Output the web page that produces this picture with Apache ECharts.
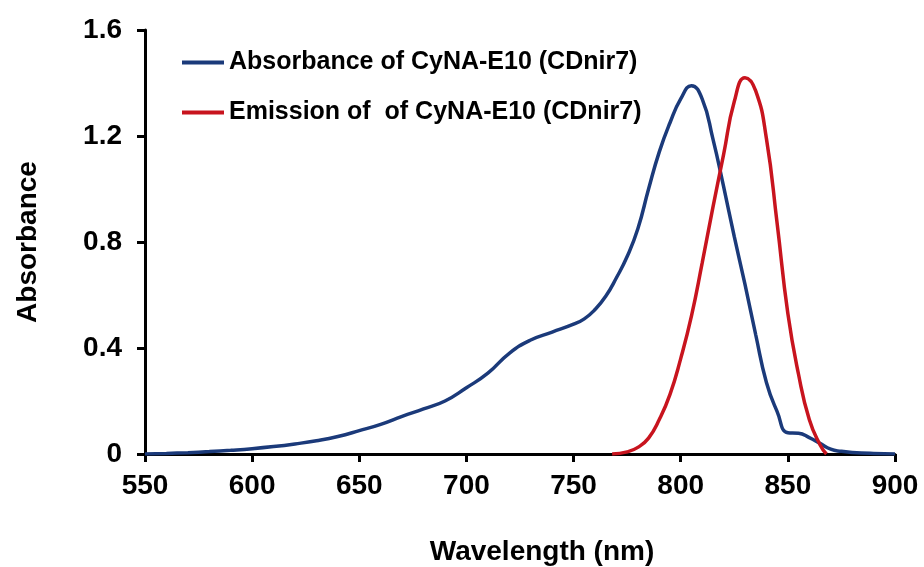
<!DOCTYPE html>
<html>
<head>
<meta charset="utf-8">
<script src="https://cdn.jsdelivr.net/npm/echarts@6/dist/echarts.min.js"></script>
<style>
  html, body { margin: 0; padding: 0; background: #fff; }
  #chart { width: 924px; height: 567px; }
</style>
</head>
<body>
<div id="chart"></div>
<script>
// wavelengths (nm) and values
const absWl = [550, 560, 570, 580, 590, 600, 610, 620, 630, 640, 650, 660, 670, 680, 690, 700, 710, 720, 730, 740, 750, 755, 760, 765, 770, 775, 780, 785, 790, 795, 800, 805, 810, 815, 820, 825, 830, 835, 840, 845, 850, 855, 860, 865, 870, 875, 880, 890, 900]
const absVal = [0, 0.002, 0.005, 0.009, 0.014, 0.02, 0.028, 0.038, 0.05, 0.066, 0.088, 0.112, 0.142, 0.17, 0.2, 0.25, 0.305, 0.38, 0.43, 0.46, 0.49, 0.51, 0.545, 0.595, 0.665, 0.745, 0.85, 1.0, 1.14, 1.25, 1.34, 1.39, 1.34, 1.19, 1.01, 0.82, 0.64, 0.45, 0.27, 0.16, 0.08, 0.078, 0.062, 0.04, 0.018, 0.01, 0.006, 0.002, 0]

const emWl = [768, 775, 780, 785, 790, 795, 800, 805, 810, 815, 820, 825, 830, 835, 840, 845, 850, 855, 860, 865, 868]
const emVal = [0, 0.008, 0.025, 0.06, 0.13, 0.225, 0.36, 0.52, 0.72, 0.93, 1.13, 1.33, 1.42, 1.37, 1.19, 0.87, 0.53, 0.3, 0.13, 0.035, 0]

const seriesNames = ['Absorbance of CyNA-E10 (CDnir7)', 'Emission of  of CyNA-E10 (CDnir7)']
const seriesColors = ['#1b3a7a', '#c8141e']

const font = '"Liberation Sans", Arial, sans-serif'
const zip = (xs, ys) => xs.map((x, i) => [x, ys[i]])

const chart = echarts.init(document.getElementById('chart'))

const axisCommon = {
  axisLine: { lineStyle: { color: '#000', width: 3 } },
  axisTick: { inside: false, length: 8, lineStyle: { color: '#000', width: 3 } },
  splitLine: { show: false },
  nameLocation: 'middle',
  nameTextStyle: { color: '#000', fontSize: 28, fontWeight: 'bold', fontFamily: font }
}

chart.setOption({
  animation: false,
  backgroundColor: '#fff',
  grid: { left: 145, right: 29, top: 30, bottom: 113, outerBoundsMode: 'none' },
  legend: {
    orient: 'vertical',
    left: 177,
    top: 45,
    itemWidth: 42,
    itemHeight: 4,
    itemGap: 25,
    icon: 'rect',
    data: seriesNames,
    textStyle: { color: '#000', fontSize: 25, fontWeight: 'bold', fontFamily: font }
  },
  xAxis: {
    ...axisCommon,
    type: 'value',
    min: 550,
    max: 900,
    interval: 50,
    name: 'Wavelength (nm)',
    nameGap: 84,
    nameTextStyle: { ...axisCommon.nameTextStyle, padding: [0, 0, 0, 44] },
    axisLabel: { color: '#000', fontSize: 28, fontWeight: 'bold', fontFamily: font, margin: 18 }
  },
  yAxis: {
    ...axisCommon,
    type: 'value',
    min: 0,
    max: 1.6,
    interval: 0.4,
    name: 'Absorbance',
    nameGap: 103,
    axisLabel: {
      color: '#000', fontSize: 28, fontWeight: 'bold', fontFamily: font, margin: 23,
      formatter: v => v === 0 ? '0' : v.toFixed(1)
    }
  },
  series: [
    {
      name: seriesNames[0],
      type: 'line',
      data: zip(absWl, absVal),
      smooth: 0.5,
      showSymbol: false,
      lineStyle: { color: seriesColors[0], width: 3.5 },
      itemStyle: { color: seriesColors[0] }
    },
    {
      name: seriesNames[1],
      type: 'line',
      data: zip(emWl, emVal),
      smooth: 0.5,
      showSymbol: false,
      lineStyle: { color: seriesColors[1], width: 3.5 },
      itemStyle: { color: seriesColors[1] }
    }
  ]
})
</script>
</body>
</html>
